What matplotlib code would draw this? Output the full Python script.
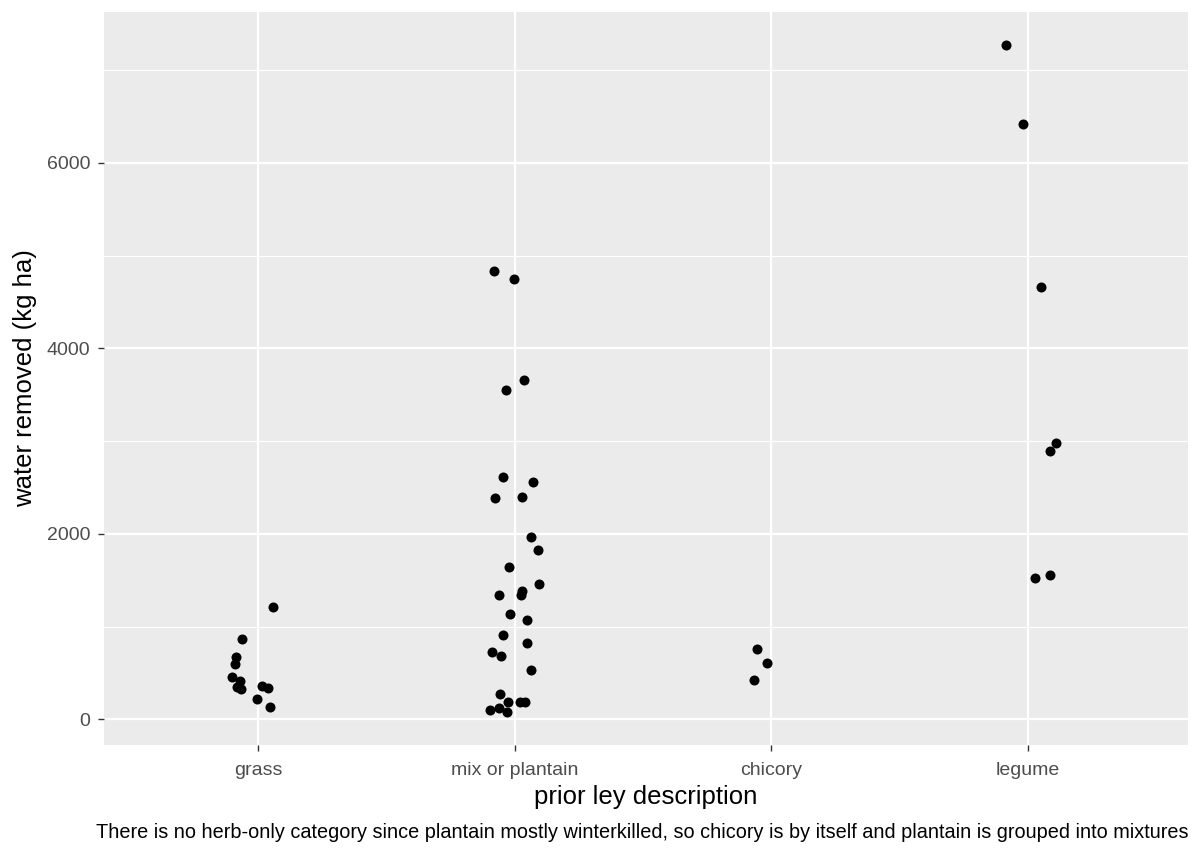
import matplotlib
matplotlib.use("Agg")
import matplotlib.pyplot as plt
import numpy as np

plt.rcParams['font.family'] = ['Liberation Sans', 'DejaVu Sans']

categories = ["grass", "mix or plantain", "chicory", "legume"]

grass_values = [1214, 862, 675, 592, 460, 417, 348, 327, 363, 337, 223, 137]
grass_jitter = [0.058, -0.064, -0.087, -0.091, -0.10, -0.069, -0.081, -0.066, 0.016, 0.038, -0.004, 0.048]

mix_values = [4836, 4746, 3662, 3547, 2610, 2556, 2383, 2394, 1968, 1831, 1640, 1461,
              1336, 1389, 1343, 1131, 1066, 905, 826, 729, 682, 528, 269, 186, 186,
              186, 100, 118, 83]
mix_jitter = [-0.081, -0.004, 0.035, -0.035, -0.046, 0.073, -0.077, 0.027, 0.062, 0.091,
              -0.021, 0.093, -0.060, 0.027, 0.025, -0.018, 0.049, -0.046, 0.049, -0.087,
              -0.052, 0.062, -0.056, -0.027, 0.021, 0.039, -0.095, -0.061, -0.030]

chicory_values = [757, 603, 420]
chicory_jitter = [-0.058, -0.017, -0.069]

legume_values = [7266, 6419, 4660, 2980, 2890, 1526, 1558]
legume_jitter = [-0.086, -0.019, 0.049, 0.109, 0.084, 0.026, 0.084]

y_ticks = [0, 2000, 4000, 6000]
y_minor = [1000, 3000, 5000, 7000]

caption = ("There is no herb-only category since plantain mostly winterkilled, "
           "so chicory is by itself and plantain is grouped into mixtures")

W, H = 1200, 857
L, R, T, B = 104, 1188, 12, 745
fig = plt.figure(figsize=(W / 100, H / 100), dpi=100)
ax = fig.add_axes([L / W, (H - B) / H, (R - L) / W, (B - T) / H])
ax.set_facecolor("#EBEBEB")
for s in ax.spines.values():
    s.set_visible(False)

groups = [(grass_values, grass_jitter), (mix_values, mix_jitter),
          (chicory_values, chicory_jitter), (legume_values, legume_jitter)]
all_vals = []
for i, (vals, jit) in enumerate(groups):
    xs = np.array(jit) + (i + 1)
    ax.scatter(xs, vals, s=52, color="black", linewidths=0, zorder=3)
    all_vals += vals

lo, hi = min(all_vals), max(all_vals)
pad = 0.05 * (hi - lo)
ax.set_ylim(lo - pad, hi + pad)
ax.set_xlim(0.4, 4.623)

ax.set_xticks(range(1, 5))
ax.set_xticklabels(categories)
ax.set_yticks(y_ticks)
ax.set_yticklabels([str(v) for v in y_ticks])
ax.set_yticks(y_minor, minor=True)
ax.set_xticks([1.5, 2.5, 3.5], minor=True)

ax.grid(which="major", color="white", linewidth=1.6, zorder=0)
ax.grid(which="minor", axis="y", color="white", linewidth=0.8, zorder=0)
ax.grid(which="minor", axis="x", visible=False)
ax.set_axisbelow(True)

ax.tick_params(which="major", length=4, width=1.0, color="#333333",
               labelsize=14, labelcolor="#4D4D4D")
ax.tick_params(axis="x", which="major", pad=8)
ax.tick_params(axis="y", which="major", pad=6)
ax.tick_params(which="minor", length=0)

ax.set_xlabel("prior ley description", fontsize=18.5, color="black")
ax.set_ylabel("water removed (kg ha)", fontsize=18.5, color="black")
ax.xaxis.set_label_coords(((L + R) / 2 - L) / (R - L), -(797 - B) / (B - T))
ax.xaxis.label.set_va("center")
ax.yaxis.set_label_coords(-(L - 25) / (R - L), 0.5)
ax.yaxis.label.set_va("center")

fig.text(R / W, 1 - 832 / H, caption, ha="right", va="center", fontsize=14.35, color="black")

fig.savefig("out.png", dpi=100, facecolor="white")
